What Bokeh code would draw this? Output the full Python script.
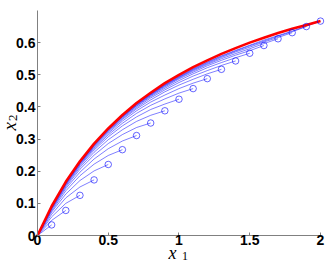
from bokeh.plotting import figure
from bokeh.models import Range1d, FixedTicker, Label
from bokeh.embed import file_html
from bokeh.resources import INLINE

# ---- data ----
x_grid = [0.0, 0.1, 0.2, 0.3, 0.4, 0.5, 0.6, 0.7, 0.8, 0.9, 1.0,
          1.1, 1.2, 1.3, 1.4, 1.5, 1.6, 1.7, 1.8, 1.9, 2.0]

# red (limit) curve
red_y = [0.0, 0.091, 0.167, 0.231, 0.286, 0.333, 0.375, 0.412, 0.444, 0.474, 0.500,
         0.524, 0.545, 0.565, 0.583, 0.600, 0.615, 0.630, 0.643, 0.655, 0.667]

# blue curves, each sampled on x_grid from 0 up to its end point (circle)
curve_01 = [0, 0.033]
curve_02 = [0, 0.047, 0.078]
curve_03 = [0, 0.058, 0.100, 0.125]
curve_04 = [0, 0.066, 0.117, 0.151, 0.173]
curve_05 = [0, 0.073, 0.129, 0.171, 0.201, 0.221]
curve_06 = [0, 0.077, 0.139, 0.186, 0.222, 0.249, 0.267]
curve_07 = [0, 0.081, 0.146, 0.197, 0.238, 0.270, 0.294, 0.311]
curve_08 = [0, 0.083, 0.151, 0.206, 0.250, 0.286, 0.314, 0.336, 0.350]
curve_09 = [0, 0.085, 0.155, 0.212, 0.259, 0.298, 0.329, 0.355, 0.374, 0.388]
curve_10 = [0, 0.087, 0.158, 0.217, 0.266, 0.307, 0.341, 0.369, 0.392, 0.409, 0.424]
curve_11 = [0, 0.088, 0.160, 0.220, 0.271, 0.313, 0.349, 0.380, 0.405, 0.425, 0.443, 0.457]
curve_12 = [0, 0.089, 0.162, 0.223, 0.274, 0.318, 0.356, 0.388, 0.415, 0.437, 0.457, 0.474, 0.488]
curve_13 = [0, 0.089, 0.163, 0.225, 0.277, 0.322, 0.361, 0.394, 0.422, 0.447, 0.468, 0.486, 0.503,
            0.517]
curve_14 = [0, 0.090, 0.164, 0.226, 0.279, 0.325, 0.364, 0.398, 0.428, 0.453, 0.476, 0.496, 0.513,
            0.529, 0.543]
curve_15 = [0, 0.090, 0.165, 0.227, 0.281, 0.327, 0.367, 0.402, 0.432, 0.458, 0.482, 0.503, 0.522,
            0.538, 0.553, 0.567]
curve_16 = [0, 0.090, 0.165, 0.228, 0.282, 0.329, 0.369, 0.404, 0.435, 0.462, 0.487, 0.508, 0.528,
            0.545, 0.561, 0.575, 0.591]
curve_17 = [0, 0.090, 0.166, 0.229, 0.283, 0.330, 0.370, 0.406, 0.437, 0.465, 0.490, 0.512, 0.532,
            0.550, 0.566, 0.581, 0.597, 0.612]
curve_18 = [0, 0.091, 0.166, 0.229, 0.284, 0.331, 0.372, 0.408, 0.439, 0.467, 0.492, 0.515, 0.535,
            0.554, 0.571, 0.586, 0.602, 0.616, 0.631]
curve_19 = [0, 0.091, 0.166, 0.230, 0.284, 0.331, 0.372, 0.409, 0.440, 0.469, 0.494, 0.517, 0.538,
            0.557, 0.574, 0.590, 0.605, 0.620, 0.634, 0.650]
curve_20 = [0, 0.091, 0.166, 0.230, 0.285, 0.332, 0.373, 0.409, 0.441, 0.470, 0.496, 0.519, 0.540,
            0.559, 0.576, 0.592, 0.608, 0.622, 0.636, 0.651, 0.667]

blue_curves = [curve_01, curve_02, curve_03, curve_04, curve_05, curve_06, curve_07,
               curve_08, curve_09, curve_10, curve_11, curve_12, curve_13, curve_14,
               curve_15, curve_16, curve_17, curve_18, curve_19, curve_20]

x_ticks = [0, 0.5, 1, 1.5, 2]
x_tick_labels = ["0", "0.5", "1", "1.5", "2"]
y_ticks = [0, 0.1, 0.2, 0.3, 0.4, 0.5, 0.6]
y_tick_labels = ["0", "0.1", "0.2", "0.3", "0.4", "0.5", "0.6"]
x_title = ["x", "1"]
y_title = ["x", "2"]

# ---- figure: the frame fills the canvas, axes are drawn at x=0 / y=0 ----
p = figure(width=327, height=265,
           x_range=Range1d(-0.2615, 2.0495), y_range=Range1d(-0.0933, 0.7311),
           output_backend="svg", toolbar_location=None,
           min_border_left=0, min_border_right=0,
           min_border_top=0, min_border_bottom=0)
p.outline_line_color = None
p.grid.visible = False
p.background_fill_color = "white"
p.border_fill_color = "white"

xs = [x_grid[:len(c)] for c in blue_curves]
p.multi_line(xs, blue_curves, line_color="#0000ff", line_alpha=0.5, line_width=1)

p.line(x_grid, red_y, line_color="#ff0000", line_width=2.6)

end_x = [x_grid[len(c) - 1] for c in blue_curves]
end_y = [c[-1] for c in blue_curves]
p.scatter(end_x, end_y, marker="circle", size=6.5, fill_color=None,
          line_color="#0000ff", line_alpha=0.6, line_width=1)

# axes
for ax in (p.xaxis[0], p.yaxis[0]):
    ax.fixed_location = 0
    ax.axis_line_color = "#808080"
    ax.major_tick_line_color = "#808080"
    ax.major_tick_in = 3
    ax.major_tick_out = 0
    ax.minor_tick_line_color = None
    ax.major_label_text_font = "Liberation Sans"
    ax.major_label_text_font_style = "bold"
    ax.major_label_text_font_size = "14px"
    ax.major_label_text_color = "black"

p.xaxis.bounds = (0, 2)
p.xaxis.ticker = FixedTicker(ticks=x_ticks)
p.xaxis.major_label_overrides = {t: s for t, s in zip(x_ticks, x_tick_labels)}
p.xaxis.major_label_standoff = -1

p.yaxis.bounds = (0, 0.7)
p.yaxis.ticker = FixedTicker(ticks=y_ticks)
p.yaxis.major_label_overrides = {t: s for t, s in zip(y_ticks, y_tick_labels)}
p.yaxis.major_label_standoff = 2

# axis titles x_1 and x_2 (italic x, upright subscript)
p.add_layout(Label(x=0.925, y=-0.0529, text=x_title[0], text_font="Liberation Serif",
                   text_font_style="italic", text_font_size="18px",
                   text_align="left", text_baseline="alphabetic", text_color="black"))
p.add_layout(Label(x=1.022, y=-0.0622, text=x_title[1], text_font="Liberation Serif",
                   text_font_size="12px", text_align="left",
                   text_baseline="alphabetic", text_color="black"))
p.add_layout(Label(x=-0.1975, y=0.3267, text=y_title[0], text_font="Liberation Serif",
                   text_font_style="italic", text_font_size="19px", angle=1.5708,
                   text_align="left", text_baseline="alphabetic", text_color="black"))
p.add_layout(Label(x=-0.176, y=0.3562, text=y_title[1], text_font="Liberation Serif",
                   text_font_size="13px", angle=1.5708,
                   text_align="left", text_baseline="alphabetic", text_color="black"))

open("out.html", "w").write(file_html(p, INLINE))
